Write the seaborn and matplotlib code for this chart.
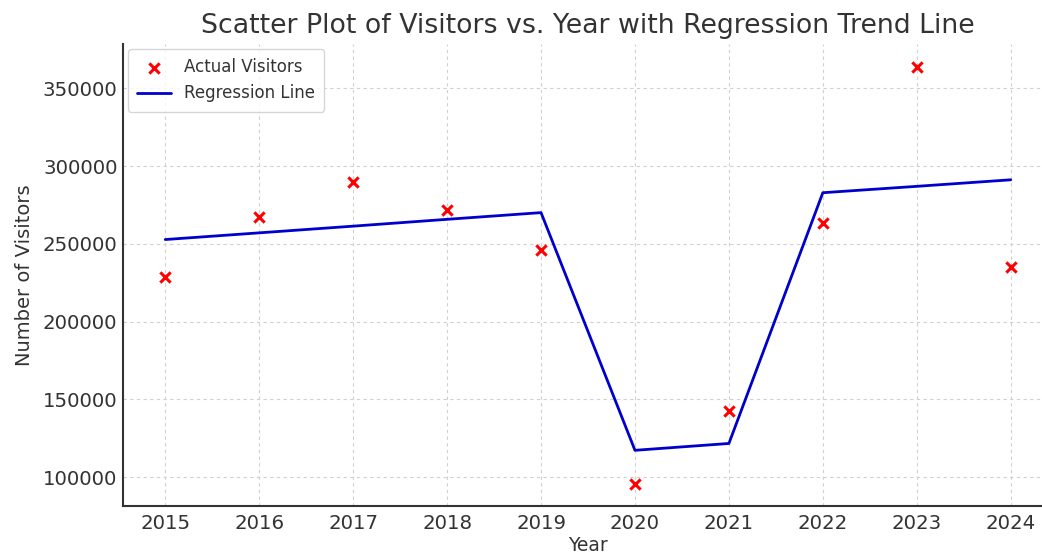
import numpy as np
import pandas as pd
import matplotlib
matplotlib.use("Agg")
import matplotlib.pyplot as plt
import seaborn as sns

# datos
years = [2015, 2016, 2017, 2018, 2019, 2020, 2021, 2022, 2023, 2024]
visitors = [229000, 267500, 290000, 272000, 246000, 95500, 142800, 263700, 364000, 234900]
regression = [252800, 257100, 261400, 265800, 270100, 117300, 121700, 282900, 287000, 291200]

df = pd.DataFrame({"Year": years, "Visitors": visitors, "Trend": regression})

sns.set_style("whitegrid")
plt.rcParams["font.family"] = ["DejaVu Sans"]
text_color = "#333333"

fig = plt.figure(figsize=(10.42, 5.58), dpi=100)
ax = fig.add_axes([123 / 1042, 1 - 506 / 558, (1053 - 123) / 1042, (506 - 44) / 558])

sns.scatterplot(data=df, x="Year", y="Visitors", marker="x", color="red", s=55,
                linewidth=2.2, label="Actual Visitors", ax=ax, zorder=3)
sns.lineplot(data=df, x="Year", y="Trend", color="#0000cc", linewidth=2,
             label="Regression Line", ax=ax, zorder=2)

ax.set_xlim(2014.55, 2024.45)
ax.set_ylim(81500, 378500)
ax.set_xticks(years)
ax.set_yticks([100000, 150000, 200000, 250000, 300000, 350000])

ax.grid(True, linestyle=(0, (3, 3)), color="#d0d0d0", linewidth=0.8)
for side in ["top", "right"]:
    ax.spines[side].set_visible(False)
for side in ["left", "bottom"]:
    ax.spines[side].set_color(text_color)
    ax.spines[side].set_linewidth(1.5)

ax.tick_params(axis="both", direction="in", length=5, width=1, colors=text_color,
               labelsize=14.2, labelcolor=text_color, pad=6)
ax.tick_params(axis="y", pad=4)

ax.set_title("Scatter Plot of Visitors vs. Year with Regression Trend Line",
             fontsize=19.3, color=text_color, pad=8)
ax.set_xlabel("Year", fontsize=13.5, color=text_color, labelpad=2)
ax.set_ylabel("Number of Visitors", fontsize=14, color=text_color, labelpad=6)

leg = ax.legend(loc="upper left", fontsize=12, frameon=True, borderpad=0.55,
                borderaxespad=0.3)
leg.get_frame().set_edgecolor("#cccccc")
for t in leg.get_texts():
    t.set_color(text_color)

fig.savefig("out.png", dpi=100)
